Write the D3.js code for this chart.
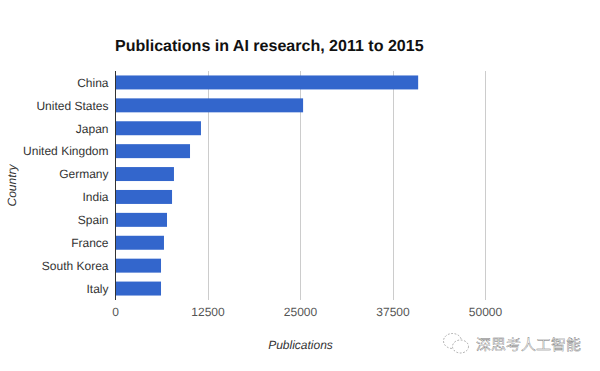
<!DOCTYPE html>
<html>
<head>
<meta charset="utf-8">
<script src="https://cdn.jsdelivr.net/npm/d3@7"></script>
<style>
    html, body { margin: 0; padding: 0; background: #fff; }
    svg { display: block; font-family: "Liberation Sans", Arial, sans-serif; text-rendering: geometricPrecision; }
    .domain { display: none; }
</style>
</head>
<body>
<div id="chart"></div>
<script>
const countries = ["China", "United States", "Japan", "United Kingdom", "Germany", "India", "Spain", "France", "South Korea", "Italy"];
const publications = [40900, 25350, 11550, 10070, 7900, 7640, 6960, 6550, 6150, 6150];
const xTicks = [0, 12500, 25000, 37500, 50000];

const BAR_COLOR = "#3366cc";

let svg = d3.select("#chart").append("svg").attr("width", 600).attr("height", 371);

let x = d3.scaleLinear().domain([0, 50000]).range([115.5, 485.5]);
let y = d3.scaleBand().domain(countries).range([71, 300]).paddingInner(0.39).paddingOuter(0.195);

// title
svg.append("text")
    .attr("x", 115).attr("y", 50.5)
    .attr("font-size", 16.05).attr("font-weight", "bold").attr("fill", "#111111")
    .text("Publications in AI research, 2011 to 2015");

// gridlines and value axis
let xAxis = svg.append("g")
    .attr("transform", "translate(0,300)")
    .call(d3.axisBottom(x).tickValues(xTicks).tickFormat(d3.format("d")).tickSize(-229).tickPadding(7).offset(0));
xAxis.selectAll("line").attr("stroke", "#cccccc").attr("shape-rendering", "crispEdges");
xAxis.selectAll("text").attr("font-size", 12).attr("fill", "#555555").attr("font-family", "Liberation Sans");

// bars
svg.append("g").selectAll("rect")
    .data(countries)
    .join("rect")
    .attr("x", x(0))
    .attr("y", d => y(d))
    .attr("width", (d, i) => x(publications[i]) - x(0))
    .attr("height", y.bandwidth())
    .attr("fill", BAR_COLOR);

// category axis
let yAxis = svg.append("g")
    .attr("transform", "translate(115,0.5)")
    .call(d3.axisLeft(y).tickSize(0).tickPadding(6.5).offset(0));
yAxis.selectAll("text").attr("font-size", 12).attr("fill", "#333333").attr("font-family", "Liberation Sans");

svg.append("line")
    .attr("x1", 115.5).attr("x2", 115.5).attr("y1", 71).attr("y2", 300)
    .attr("stroke", "#333333");

// axis titles
svg.append("text")
    .attr("x", 300.5).attr("y", 349)
    .attr("text-anchor", "middle")
    .attr("font-size", 12).attr("font-style", "italic").attr("fill", "#333333")
    .text("Publications");

svg.append("text")
    .attr("transform", "translate(16,185.5) rotate(-90)")
    .attr("text-anchor", "middle")
    .attr("font-size", 12).attr("font-style", "italic").attr("fill", "#333333")
    .text("Country");

// watermark
let mark = svg.append("g").attr("fill", "#fff").attr("stroke", "#777777").attr("stroke-width", 0.6).attr("stroke-dasharray", "1.8 1.6");
mark.append("ellipse").attr("cx", 452.5).attr("cy", 341).attr("rx", 9).attr("ry", 7.5);
mark.append("ellipse").attr("cx", 460.5).attr("cy", 346.5).attr("rx", 8).attr("ry", 6.5);

svg.append("text")
    .attr("x", 476).attr("y", 349.5)
    .attr("font-family", "Noto Sans CJK SC")
    .attr("font-size", 15)
    .attr("fill", "#ffffff").attr("stroke", "#707070").attr("stroke-width", 0.4)
    .text("深思考人工智能");
</script>
</body>
</html>
